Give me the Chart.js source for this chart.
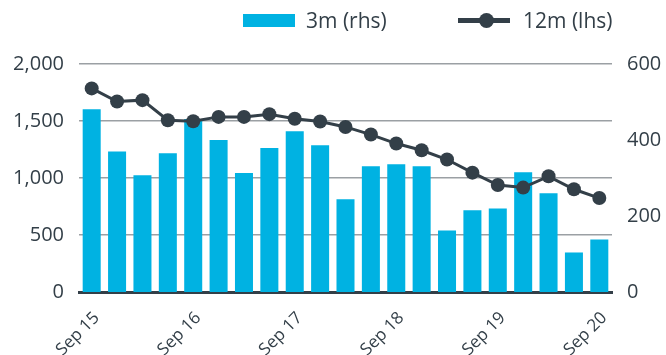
<!DOCTYPE html>
<html lang="en">

<head>
  <meta charset="UTF-8">
  <title>3m vs 12m</title>
  <script src="https://cdn.jsdelivr.net/npm/chart.js"></script>
  <style>
    body { margin: 0; background: #fff; font-family: "Open Sans", sans-serif; color: #333f48; }
    .wrap { position: relative; width: 666px; height: 355px; }
    .legend { position: absolute; top: 0; left: 0; width: 666px; height: 40px; font-size: 21px; }
    .legend span { position: absolute; top: 5px; line-height: 30px; }
    .caixa { position: absolute; left: 243px; top: 14px; width: 52px; height: 13px; background: #00b2e2; }
    .linha { position: absolute; left: 458px; top: 18px; width: 52px; height: 5px; background: #333f48; }
    .ponto { position: absolute; left: 479px; top: 13px; width: 15px; height: 15px; border-radius: 50%; background: #333f48; }
  </style>
</head>

<body>
  <div class="wrap">
    <canvas id="grafico" width="666" height="355"></canvas>
    <!-- legenda -->
    <div class="legend">
      <div class="caixa"></div>
      <span style="left: 306px;">3m (rhs)</span>
      <div class="linha"></div>
      <div class="ponto"></div>
      <span style="left: 523px;">12m (lhs)</span>
    </div>
  </div>

  <script>
    // trimestres, de Sep 15 a Sep 20
    var trimestres = ['Sep 15', 'Dec 15', 'Mar 16', 'Jun 16', 'Sep 16', 'Dec 16', 'Mar 17', 'Jun 17',
      'Sep 17', 'Dec 17', 'Mar 18', 'Jun 18', 'Sep 18', 'Dec 18', 'Mar 19', 'Jun 19',
      'Sep 19', 'Dec 19', 'Mar 20', 'Jun 20', 'Sep 20'];

    // barras (eixo da direita)
    var valores3m = [481, 370, 307, 365, 455, 400, 313, 379, 423, 386, 244, 331, 336, 331, 162, 215, 220, 315, 260, 104, 138];

    // linha (eixo da esquerda)
    var valores12m = [1786, 1671, 1683, 1507, 1498, 1536, 1536, 1560, 1520, 1495, 1448, 1381, 1302, 1243, 1162, 1047, 938, 916, 1015, 901, 824];

    var ticksEsquerda = [0, 500, 1000, 1500, 2000];
    var ticksDireita = [0, 200, 400, 600];

    var corTexto = '#333f48';
    var fonteTicks = { family: 'Open Sans', size: 20 };

    var ctx = document.getElementById('grafico').getContext('2d');
    var myChart = new Chart(ctx, {
      data: {
        labels: trimestres,
        datasets: [{
          type: 'line',
          label: '12m (lhs)',
          data: valores12m,
          yAxisID: 'esquerda',
          borderColor: corTexto,
          backgroundColor: corTexto,
          borderWidth: 3,
          pointRadius: 7,
          pointBackgroundColor: corTexto,
          pointBorderWidth: 0,
          tension: 0,
          order: 0
        }, {
          type: 'bar',
          label: '3m (rhs)',
          data: valores3m,
          yAxisID: 'direita',
          backgroundColor: '#00b2e2',
          borderWidth: 0,
          barPercentage: 0.71,
          categoryPercentage: 1,
          order: 1
        }]
      },
      options: {
        responsive: false,
        animation: false,
        layout: { padding: { top: 64, left: 0, right: 0, bottom: 0 } },
        plugins: { legend: { display: false }, tooltip: { enabled: false } },
        scales: {
          x: {
            z: 1,
            grid: { display: false },
            border: { display: true, color: corTexto, width: 3 },
            ticks: {
              autoSkip: false,
              maxRotation: 45,
              minRotation: 45,
              padding: 8,
              labelOffset: 5,
              color: corTexto,
              font: { family: 'Open Sans', size: 17 },
              callback: function (valor, i) {
                return i % 4 === 0 ? trimestres[i] : '';
              }
            },
            afterFit: function (escala) { escala.height = 63; }
          },
          esquerda: {
            position: 'left',
            min: 0,
            max: 2000,
            afterBuildTicks: function (escala) {
              escala.ticks = ticksEsquerda.map(function (v) { return { value: v }; });
            },
            grid: { color: '#9ba0a4', lineWidth: 1.5, drawTicks: false },
            border: { display: false },
            ticks: {
              padding: 15,
              color: corTexto,
              font: fonteTicks,
              callback: function (v) { return v.toLocaleString('en-US'); }
            },
            afterFit: function (escala) { escala.width = 79; }
          },
          direita: {
            position: 'right',
            min: 0,
            max: 600,
            afterBuildTicks: function (escala) {
              escala.ticks = ticksDireita.map(function (v) { return { value: v }; });
            },
            grid: { display: false },
            border: { display: false },
            ticks: { padding: 7, color: corTexto, font: fonteTicks },
            afterFit: function (escala) { escala.width = 54; }
          }
        }
      }
    });
  </script>
</body>

</html>
